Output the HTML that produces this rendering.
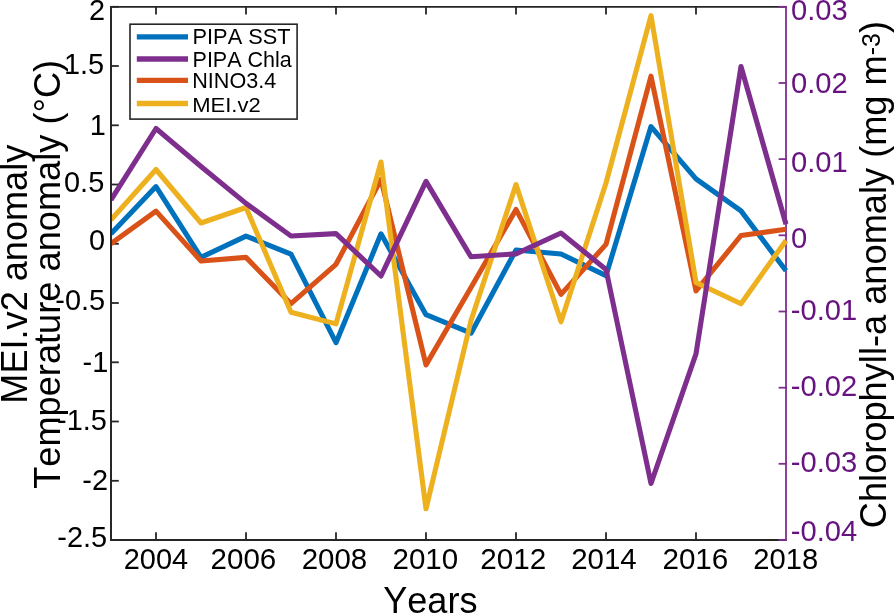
<!DOCTYPE html>
<html lang="en">
<head>
<meta charset="utf-8">
<title>PIPA anomalies</title>
<style>
html,body{margin:0;padding:0;background:#fff;}
body{width:895px;height:614px;overflow:hidden;}
svg{display:block;}
text{font-family:"Liberation Sans",Arial,Helvetica,sans-serif;font-kerning:none;}
.tl{fill:#000;}
.tr{fill:#67137f;}
.al{fill:#000;}
.lg{fill:#000;}
.ser{fill:none;stroke-linejoin:round;stroke-linecap:butt;}
</style>
</head>
<body>
<svg width="895" height="614" viewBox="0 0 895 614">
<rect x="0" y="0" width="895" height="614" fill="#ffffff"/>
<defs><clipPath id="cp"><rect x="111" y="0" width="682" height="545"/></clipPath></defs>

<g stroke="#262626" stroke-width="1.8" fill="none" stroke-linecap="butt">
<path d="M111.0 540.9 V6.8 H786.0"/>
<path d="M110.1 540.0 H786.0"/>
<path d="M156.0 540.0 v-7.8 M156.0 6.8 v7.8"/>
<path d="M246.0 540.0 v-7.8 M246.0 6.8 v7.8"/>
<path d="M336.0 540.0 v-7.8 M336.0 6.8 v7.8"/>
<path d="M426.0 540.0 v-7.8 M426.0 6.8 v7.8"/>
<path d="M516.0 540.0 v-7.8 M516.0 6.8 v7.8"/>
<path d="M606.0 540.0 v-7.8 M606.0 6.8 v7.8"/>
<path d="M696.0 540.0 v-7.8 M696.0 6.8 v7.8"/>
<path d="M111.0 6.8 h7.8"/>
<path d="M111.0 66.0 h7.8"/>
<path d="M111.0 125.3 h7.8"/>
<path d="M111.0 184.5 h7.8"/>
<path d="M111.0 243.8 h7.8"/>
<path d="M111.0 303.0 h7.8"/>
<path d="M111.0 362.3 h7.8"/>
<path d="M111.0 421.5 h7.8"/>
<path d="M111.0 480.8 h7.8"/>
<path d="M111.0 540.0 h7.8"/>
</g>
<g stroke="#7E2F8E" stroke-width="1.8" fill="none">
<path d="M786.0 5.8999999999999995 V540.9"/>
<path d="M786.9 6.8 h-8.3"/>
<path d="M786.9 83.0 h-8.3"/>
<path d="M786.9 159.1 h-8.3"/>
<path d="M786.9 235.3 h-8.3"/>
<path d="M786.9 311.5 h-8.3"/>
<path d="M786.9 387.7 h-8.3"/>
<path d="M786.9 463.8 h-8.3"/>
<path d="M786.9 540.0 h-8.3"/>
</g>
<g clip-path="url(#cp)">
<polyline class="ser" stroke="#0072BD" stroke-width="5.1" points="111.0,233.8 156.0,186.6 201.0,257.4 246.0,236.1 291.0,254.2 336.0,342.7 381.0,233.8 426.0,314.7 471.0,333.2 516.0,250.0 561.0,254.0 606.0,275.6 651.0,126.6 696.0,178.8 741.0,210.9 786.0,270.8"/>
<polyline class="ser" stroke="#D95319" stroke-width="5.1" points="111.0,243.7 156.0,211.1 201.0,261.0 246.0,257.4 291.0,303.7 336.0,264.3 381.0,179.5 426.0,364.9 471.0,287.5 516.0,209.4 561.0,294.4 606.0,244.4 651.0,76.2 696.0,290.9 741.0,235.5 786.0,229.3"/>
<polyline class="ser" stroke="#EDB120" stroke-width="5.1" points="111.0,219.9 156.0,169.5 201.0,223.0 246.0,207.5 291.0,312.2 336.0,323.9 381.0,162.0 426.0,508.8 471.0,320.5 516.0,184.6 561.0,321.8 606.0,183.0 651.0,15.7 696.0,282.5 741.0,303.7 786.0,240.4"/>
<polyline class="ser" stroke="#7E2F8E" stroke-width="5.1" points="111.0,199.9 156.0,128.5 201.0,166.5 246.0,203.4 291.0,236.0 336.0,233.6 381.0,276.0 426.0,181.4 471.0,256.8 516.0,253.9 561.0,233.0 606.0,269.4 651.0,483.5 696.0,353.8 741.0,66.5 786.0,224.2"/>
</g>
<path d="M111.0 540.9 V5.8999999999999995" stroke="#262626" stroke-width="1.8" fill="none"/>
<text class="tl" font-size="28.9" transform="translate(123.74 569.12) scale(1.0018 1)">2004</text>
<text class="tl" font-size="28.9" transform="translate(210.62 569.12) scale(1.0216 1)">2006</text>
<text class="tl" font-size="28.9" transform="translate(301.67 569.12) scale(1.0190 1)">2008</text>
<text class="tl" font-size="28.9" transform="translate(392.51 569.12) scale(1.0217 1)">2010</text>
<text class="tl" font-size="28.9" transform="translate(480.31 569.12) scale(1.0263 1)">2012</text>
<text class="tl" font-size="28.9" transform="translate(571.22 569.12) scale(1.0195 1)">2014</text>
<text class="tl" font-size="28.9" transform="translate(662.41 569.12) scale(1.0257 1)">2016</text>
<text class="tl" font-size="28.9" transform="translate(753.33 569.12) scale(1.0100 1)">2018</text>
<text class="tl" font-size="28.9" transform="translate(88.98 19.80) scale(1.0000 1)">2</text>
<text class="tl" font-size="28.9" transform="translate(63.94 73.82) scale(1.0000 1)">1.5</text>
<text class="tl" font-size="28.9" transform="translate(89.64 135.10) scale(1.0000 1)">1</text>
<text class="tl" font-size="28.9" transform="translate(64.04 192.22) scale(1.0000 1)">0.5</text>
<text class="tl" font-size="28.9" transform="translate(88.96 249.82) scale(1.0000 1)">0</text>
<text class="tl" font-size="28.9" transform="translate(55.31 310.12) scale(1.0000 1)">-0.5</text>
<text class="tl" font-size="28.9" transform="translate(82.51 372.00) scale(1.0000 1)">-1</text>
<text class="tl" font-size="28.9" transform="translate(57.11 429.52) scale(1.0000 1)">-1.5</text>
<text class="tl" font-size="28.9" transform="translate(82.26 490.10) scale(1.0000 1)">-2</text>
<text class="tl" font-size="28.9" transform="translate(57.31 547.32) scale(1.0000 1)">-2.5</text>
<text class="tr" font-size="28.9" transform="translate(790.96 20.42) scale(1.0100 1)">0.03</text>
<text class="tr" font-size="28.9" transform="translate(790.96 92.52) scale(1.0100 1)">0.02</text>
<text class="tr" font-size="28.9" transform="translate(790.96 171.62) scale(1.0100 1)">0.01</text>
<text class="tr" font-size="28.9" transform="translate(790.96 247.92) scale(1.0100 1)">0</text>
<text class="tr" font-size="28.9" transform="translate(790.80 320.12) scale(1.0100 1)">-0.01</text>
<text class="tr" font-size="28.9" transform="translate(790.80 395.87) scale(1.0100 1)">-0.02</text>
<text class="tr" font-size="28.9" transform="translate(790.80 472.12) scale(1.0100 1)">-0.03</text>
<text class="tr" font-size="28.9" transform="translate(790.80 540.82) scale(1.0100 1)">-0.04</text>
<text class="al" font-size="36.4" transform="translate(383.21 612.54) scale(0.9917 1)">Years</text>
<text class="al" font-size="36.4" transform="translate(26.90 403.66) rotate(-90) scale(0.9928 1)">MEI.v2 anomaly</text>
<text class="al" font-size="36.4" transform="translate(60.10 488.81) rotate(-90) scale(0.9948 1)">Temperature anomaly (°C)</text>
<text class="al" font-size="36.4" transform="translate(886.20 528.19) rotate(-90) scale(0.9953 1)">Chlorophyll-a anomaly (mg m<tspan font-size="25.12" dy="-6.20">-3</tspan><tspan dy="6.20">)</tspan></text>
<rect x="130" y="24.2" width="167.1" height="94.9" fill="#fff" stroke="#262626" stroke-width="1.6"/>
<path d="M136.8 36.8 H188" stroke="#0072BD" stroke-width="5.3" fill="none"/>
<text class="lg" font-size="21.15" transform="translate(192.51 44.20) scale(1.0303 1)">PIPA SST</text>
<path d="M136.8 59.0 H188" stroke="#7E2F8E" stroke-width="5.3" fill="none"/>
<text class="lg" font-size="21.15" transform="translate(192.53 66.50) scale(1.0174 1)">PIPA Chla</text>
<path d="M136.8 80.4 H188" stroke="#D95319" stroke-width="5.3" fill="none"/>
<text class="lg" font-size="21.15" transform="translate(192.23 88.40) scale(1.0222 1)">NINO3.4</text>
<path d="M136.8 103.5 H188" stroke="#EDB120" stroke-width="5.3" fill="none"/>
<text class="lg" font-size="21.15" transform="translate(192.19 112.40) scale(1.0426 1)">MEI.v2</text>
</svg>
</body>
</html>
